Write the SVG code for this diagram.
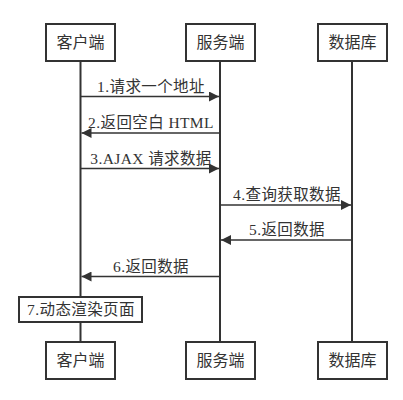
<svg xmlns="http://www.w3.org/2000/svg" width="403" height="400" viewBox="0 0 403 400">
<style>
.box{fill:#fff;stroke:#333;stroke-width:2}
.life{stroke:#333;stroke-width:2;fill:none}
.msg{stroke:#333;stroke-width:1.6;fill:none;marker-end:url(#ah)}
text{font-family:"Liberation Serif","Noto Sans CJK SC",serif;fill:#333;text-anchor:middle}
.nt{font-size:16px}
.lt{font-size:15.5px;letter-spacing:0.4px}
</style>
<defs>
<marker id="ah" viewBox="0 0 10 10" refX="10" refY="5" markerWidth="10" markerHeight="10" markerUnits="userSpaceOnUse" orient="auto">
<path d="M0,0 L10,5 L0,10 z" fill="#333"/>
</marker>
</defs>
<rect width="403" height="400" fill="#fff"/>
<g id="connectors">
<line class="life" x1="80.5" y1="61" x2="80.5" y2="297"/>
<line class="life" x1="80.5" y1="322" x2="80.5" y2="342"/>
<line class="life" x1="220" y1="61" x2="220" y2="342"/>
<line class="life" x1="352" y1="61" x2="352" y2="342"/>
<line class="msg" x1="80.5" y1="96.5" x2="219" y2="96.5"/>
<text class="lt" x="151" y="92">1.请求一个地址</text>
<line class="msg" x1="220" y1="133" x2="81.5" y2="133"/>
<text class="lt" x="151" y="128">2.返回空白 HTML</text>
<line class="msg" x1="80.5" y1="168.5" x2="219" y2="168.5"/>
<text class="lt" x="151" y="164">3.AJAX 请求数据</text>
<line class="msg" x1="220" y1="205" x2="351" y2="205"/>
<text class="lt" x="287" y="200">4.查询获取数据</text>
<line class="msg" x1="352" y1="240" x2="221" y2="240"/>
<text class="lt" x="287" y="235">5.返回数据</text>
<line class="msg" x1="220" y1="276.5" x2="81.5" y2="276.5"/>
<text class="lt" x="151" y="272">6.返回数据</text>
</g>
<g id="client-top"><rect class="box" x="46" y="24" width="69" height="37"/><text class="nt" x="80.5" y="48">客户端</text></g>
<g id="server-top"><rect class="box" x="186" y="24" width="69" height="37"/><text class="nt" x="220.5" y="48">服务端</text></g>
<g id="db-top"><rect class="box" x="318" y="24" width="69" height="37"/><text class="nt" x="352.5" y="48">数据库</text></g>
<g id="render"><rect class="box" x="19" y="297" width="123" height="25"/><text class="lt" x="81" y="315">7.动态渲染页面</text></g>
<g id="client-bottom"><rect class="box" x="46" y="342" width="69" height="37"/><text class="nt" x="80.5" y="366">客户端</text></g>
<g id="server-bottom"><rect class="box" x="186" y="342" width="69" height="37"/><text class="nt" x="220.5" y="366">服务端</text></g>
<g id="db-bottom"><rect class="box" x="318" y="342" width="69" height="37"/><text class="nt" x="352.5" y="366">数据库</text></g>
</svg>
